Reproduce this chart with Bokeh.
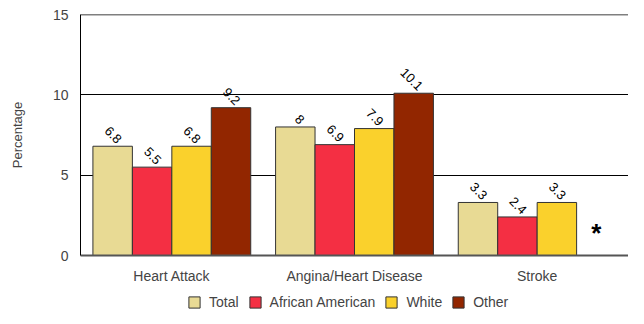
import math
from bokeh.plotting import figure
from bokeh.layouts import column
from bokeh.models import (FactorRange, Range1d, ColumnDataSource, LabelSet, Legend,
                          LegendItem, FixedTicker, Span)
from bokeh.transform import dodge
from bokeh.core.properties import value
from bokeh.embed import file_html
from bokeh.resources import INLINE

categories = ["Heart Attack", "Angina/Heart Disease", "Stroke"]
series_names = ["Total", "African American", "White", "Other"]
total = [6.8, 8.0, 3.3]
african_american = [5.5, 6.9, 2.4]
white = [6.8, 7.9, 3.3]
other = [9.2, 10.1, float("nan")]
y_ticks = [0, 5, 10, 15]
missing_marker = "*"
missing_category = "Stroke"
missing_marker_y = 1.4

colors = ["#E8DA94", "#F42F43", "#FAD12C", "#922600"]
FONT = "Liberation Sans"

series_values = [total, african_american, white, other]
bar_w = 0.216
offsets = [-1.5 * bar_w, -0.5 * bar_w, 0.5 * bar_w, 1.5 * bar_w]

p = figure(x_range=FactorRange(factors=categories, range_padding=0),
           y_range=Range1d(0, 15), frame_width=548, frame_height=241,
           output_backend="svg", toolbar_location=None,
           min_border_left=80, min_border_right=0, min_border_top=14,
           min_border_bottom=0)
p.outline_line_color = None
p.background_fill_color = None
p.border_fill_color = "white"

for name, vals, col, off in zip(series_names, series_values, colors, offsets):
    labels = [("" if (v != v) else f"{v:g}") for v in vals]
    src = ColumnDataSource(dict(cat=categories, val=vals, lab=labels,
                                lab_y=[0 if v != v else v for v in vals]))
    p.vbar(x=dodge("cat", off, range=p.x_range), top="val", width=bar_w,
           source=src, fill_color=col, line_color="#333333", line_width=1)
    ls = LabelSet(x=dodge("cat", off, range=p.x_range), y="lab_y", text="lab",
                  source=src, angle=-math.pi / 4, text_align="right",
                  text_baseline="middle", x_offset=7, y_offset=5,
                  text_font=value(FONT), text_font_size="13px", text_color="black")
    p.add_layout(ls)

# missing value marker
msrc = ColumnDataSource(dict(cat=[missing_category], y=[missing_marker_y], t=[missing_marker]))
p.text(x=dodge("cat", offsets[3], range=p.x_range), y="y", text="t", source=msrc,
       text_align="center", text_baseline="middle", text_font=value(FONT),
       text_font_size="26px", text_font_style="bold", text_color="black")

p.add_layout(Span(location=y_ticks[-1], dimension="width", line_color="black", line_width=1.5))

p.yaxis.ticker = FixedTicker(ticks=y_ticks)
p.yaxis.axis_label = "Percentage"
p.yaxis.axis_label_text_font = FONT
p.yaxis.axis_label_text_font_size = "13px"
p.yaxis.axis_label_text_font_style = "normal"
p.yaxis.axis_label_standoff = 25
p.yaxis.major_label_text_font = FONT
p.yaxis.major_label_text_font_size = "14px"
p.yaxis.major_label_standoff = 12
p.yaxis.major_tick_line_color = None
p.yaxis.major_tick_out = 0
p.yaxis.minor_tick_line_color = None
p.yaxis.axis_line_color = "black"

p.xaxis.major_label_text_font = FONT
p.xaxis.major_label_text_font_size = "14px"
p.xaxis.major_label_standoff = 12
p.xaxis.major_tick_line_color = None
p.xaxis.major_tick_out = 0
p.xaxis.axis_line_color = "#555555"
p.xaxis.axis_line_width = 2

p.xgrid.grid_line_color = None
p.ygrid.grid_line_color = "black"
p.ygrid.grid_line_width = 1

# legend strip
lf = figure(width=628, height=24, x_range=Range1d(0, 1), y_range=Range1d(0, 1),
            output_backend="svg", toolbar_location=None,
            x_axis_location=None, y_axis_location=None,
            min_border_left=0, min_border_right=0, min_border_top=0, min_border_bottom=0)
lf.outline_line_color = None
lf.xgrid.grid_line_color = None
lf.ygrid.grid_line_color = None
items = []
for name, col in zip(series_names, colors):
    r = lf.vbar(x=[-5], top=[0], width=0.1, fill_color=col, line_color="#333333")
    items.append(LegendItem(label=name, renderers=[r]))
legend = Legend(items=items, orientation="horizontal", location=(107, 0),
                label_text_font=FONT, label_text_font_size="14px",
                glyph_width=14, glyph_height=14, label_standoff=8, spacing=9,
                padding=0, margin=0, border_line_color=None,
                background_fill_alpha=0)
lf.add_layout(legend, "center")

layout = column(p, lf, spacing=0)
open("out.html", "w").write(file_html(layout, INLINE))
